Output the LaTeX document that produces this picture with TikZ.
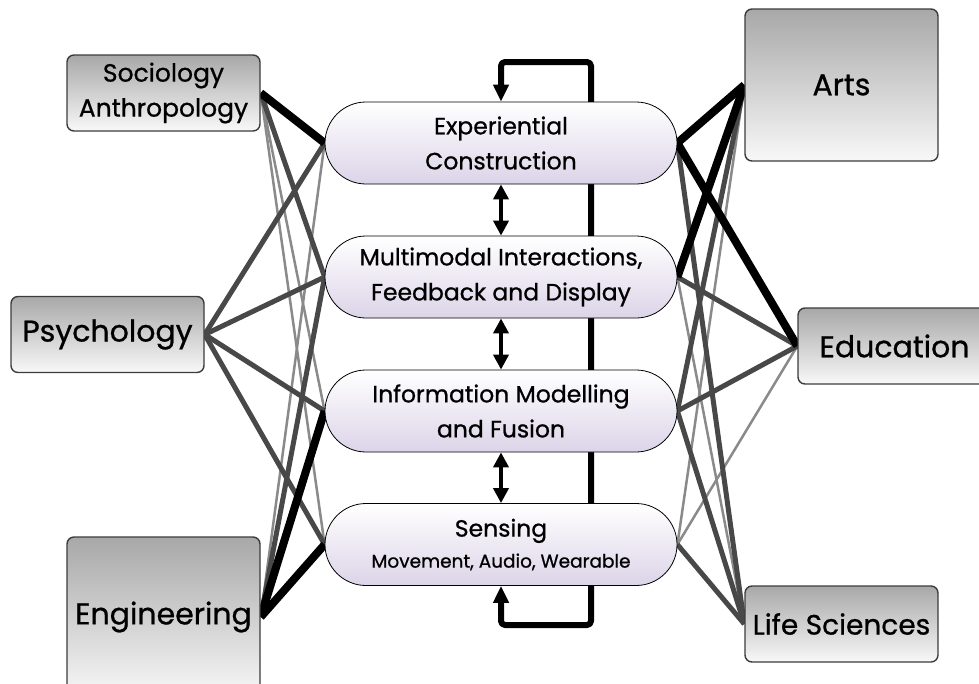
\documentclass[tikz,border=0pt]{standalone}
\usepackage{fontspec}
\setmainfont{Poppins}[FakeBold=0.8,BoldFont=Poppins]
\usetikzlibrary{arrows.meta,backgrounds}
\definecolor{boxtop}{RGB}{168,168,168}
\definecolor{boxbot}{RGB}{248,248,248}
\definecolor{boxline}{RGB}{60,60,60}
\definecolor{pillbot}{RGB}{220,212,232}
\definecolor{darkln}{RGB}{72,72,72}
\definecolor{lightln}{RGB}{138,138,138}
\begin{document}
\begin{tikzpicture}[x=1pt,y=-1pt,
  side/.style={draw=boxline, line width=1.4pt, rounded corners=7pt, top color=boxtop, bottom color=boxbot, minimum width=193pt, inner sep=0pt, align=center},
  big/.style={font=\bfseries\fontsize{30}{36}\selectfont},
  pill/.style={draw=black, line width=0.8pt, rounded corners=41pt, top color=white, bottom color=pillbot, minimum width=352pt, minimum height=82pt, inner sep=0pt, align=center, font=\bfseries\fontsize{23.5}{35}\selectfont},
  linkH/.style={line width=8pt, draw=black},
  linkM/.style={line width=5pt, draw=darkln},
  linkL/.style={line width=2.5pt, draw=lightln},
  fbline/.style={line width=6pt, draw=black, rounded corners=4pt, line join=round},
  dbl/.style={line width=4.5pt, draw=black, {Triangle[width=15pt,length=15pt]}-{Triangle[width=15pt,length=15pt]}},
]
\useasboundingbox (0,0) rectangle (979,683);
% side boxes
\node[side, minimum height=76pt, font=\bfseries\fontsize{25}{35}\selectfont] (soc) at (163.5,93) {Sociology\\Anthropology};
\node[side, minimum height=76pt, big] (psy) at (107.5,334.5) {Psychology};
\node[side, minimum height=160pt, big] (eng) at (163.5,617) {Engineering};
\node[side, minimum height=152pt, big] (arts) at (841.5,85) {Arts};
\node[side, minimum height=76pt, big] (edu) at (894.5,346) {Education};
\node[side, minimum height=76pt, font=\bfseries\fontsize{28}{34}\selectfont] (life) at (841.5,624) {Life Sciences};
% pills
\node[pill] (exp) at (501,143) {Experiential\\Construction};
\node[pill] (mm) at (501,277) {Multimodal Interactions,\\Feedback and Display};
\node[pill] (info) at (501,411) {Information Modelling\\and Fusion};
\node[pill, font=\bfseries\fontsize{23.5}{31}\selectfont] (sens) at (501,544.5) {Sensing\\{\fontsize{18.5}{22}\selectfont Movement, Audio, Wearable}};
% feedback loop coordinates
\coordinate (fbTL) at (501,62);
\coordinate (fbTR) at (591,62);
\coordinate (fbBR) at (591,625);
\coordinate (fbBL) at (501,625);
\begin{scope}[on background layer]
  % left links
  \draw[linkL] (soc.east) -- (info.west);
  \draw[linkL] (soc.east) -- (sens.west);
  \draw[linkL] (eng.east) -- (exp.west);
  \draw[linkM] (soc.east) -- (mm.west);
  \draw[linkM] (psy.east) -- (exp.west);
  \draw[linkM] (psy.east) -- (mm.west);
  \draw[linkM] (psy.east) -- (info.west);
  \draw[linkM] (psy.east) -- (sens.west);
  \draw[linkM] (eng.east) -- (mm.west);
  \draw[linkH] (soc.east) -- (exp.west);
  \draw[linkH] (eng.east) -- (info.west);
  \draw[linkH] (eng.east) -- (sens.west);
  % right links
  \draw[linkL] (sens.east) -- (arts.west);
  \draw[linkL] (sens.east) -- (edu.west);
  \draw[linkL] (mm.east) -- (life.west);
  \draw[linkM] (info.east) -- (arts.west);
  \draw[linkM] (mm.east) -- (edu.west);
  \draw[linkM] (info.east) -- (edu.west);
  \draw[linkM] (exp.east) -- (life.west);
  \draw[linkM] (info.east) -- (life.west);
  \draw[linkM] (sens.east) -- (life.west);
  \draw[linkH] (exp.east) -- (arts.west);
  \draw[linkH] (mm.east) -- (arts.west);
  \draw[linkH] (exp.east) -- (edu.west);
  % feedback loop
  \draw[fbline, {Triangle[width=15pt,length=17pt]}-{Triangle[width=15pt,length=17pt]}] (exp.north) -- (fbTL) -- (fbTR) -- (fbBR) -- (fbBL) -- (sens.south);
\end{scope}
% double arrows between layers
\draw[dbl] (exp.south) -- (mm.north);
\draw[dbl] (mm.south) -- (info.north);
\draw[dbl] (info.south) -- (sens.north);
\end{tikzpicture}
\end{document}
